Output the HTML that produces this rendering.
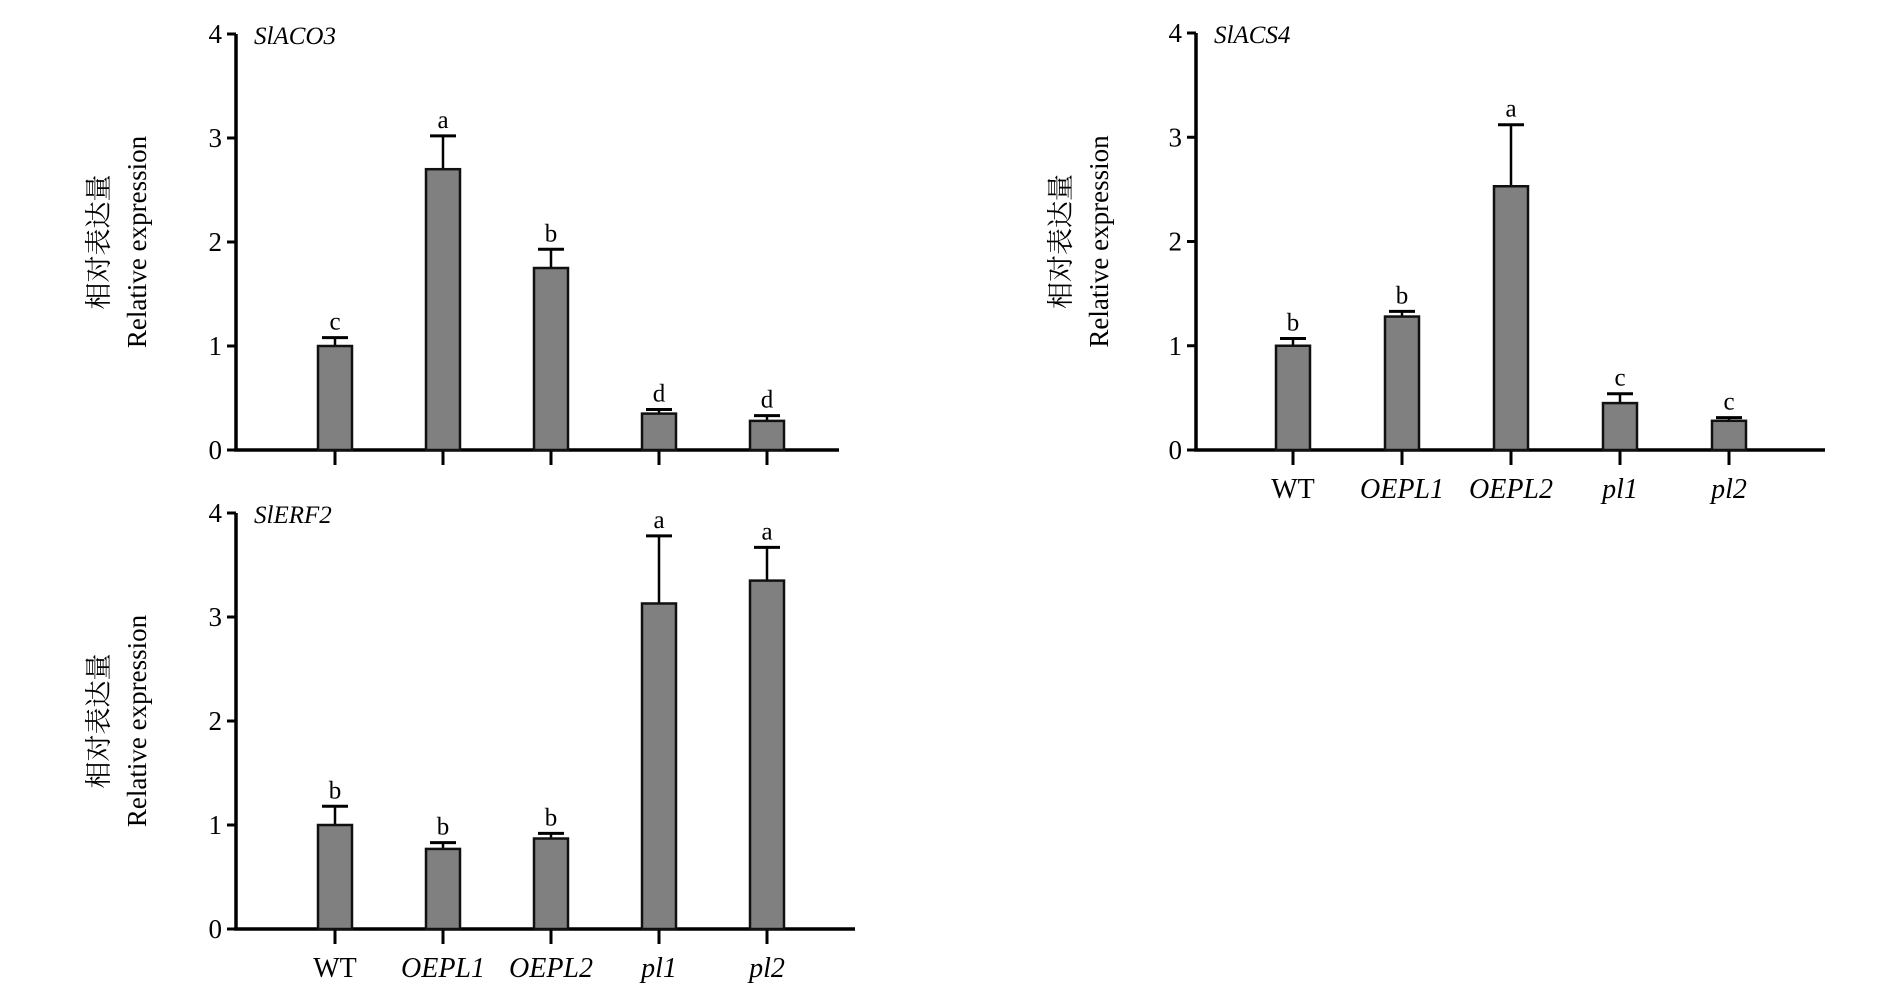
<!DOCTYPE html>
<html><head><meta charset="utf-8"><style>
html,body{margin:0;padding:0;background:#fff;}
svg{display:block;font-family:"Liberation Serif","Noto Serif CJK SC",serif;}
</style></head><body>
<svg id="chart" width="1890" height="983" viewBox="0 0 1890 983"></svg>
<script>
const categories = ["WT","OEPL1","OEPL2","pl1","pl2"];
const acoValues = [1.0, 2.7, 1.75, 0.35, 0.28];
const acoErrors = [0.08, 0.32, 0.18, 0.04, 0.05];
const acoLetters = ["c","a","b","d","d"];
const acsValues = [1.0, 1.28, 2.53, 0.45, 0.28];
const acsErrors = [0.07, 0.05, 0.59, 0.09, 0.03];
const acsLetters = ["b","b","a","c","c"];
const erfValues = [1.0, 0.77, 0.87, 3.13, 3.35];
const erfErrors = [0.18, 0.06, 0.05, 0.65, 0.32];
const erfLetters = ["b","b","b","a","a"];
const yTicks = [0,1,2,3,4];

const NS="http://www.w3.org/2000/svg";
const svg=document.getElementById('chart');
function mk(tag,attrs,parent){const e=document.createElementNS(NS,tag);for(const k in attrs)e.setAttribute(k,attrs[k]);(parent||svg).appendChild(e);return e;}

function panel(cfg){
  const g=mk('g',{});
  
  
  const y=v=>cfg.y0-(cfg.y0-cfg.y4)*v/4;
  const x=i=>cfg.xs[0]+i*cfg.step;
  // axes
  const ya=mk('line',{x1:cfg.ax,y1:cfg.y4,x2:cfg.ax,y2:cfg.y0,stroke:'#000','stroke-width':3.5},g);
  
  
  const xa=mk('line',{x1:cfg.ax-2,y1:cfg.y0,x2:cfg.axEnd,y2:cfg.y0,stroke:'#000','stroke-width':3.5},g);
  
  
  yTicks.forEach(t=>{
    mk('line',{x1:cfg.ax-9,y1:y(t),x2:cfg.ax,y2:y(t),stroke:'#000','stroke-width':3},g);
    const tl=mk('text',{x:cfg.ax-14,y:y(t)+9,'text-anchor':'end','font-size':27},g);
    tl.textContent=t;
    
    
  });
  const title=mk('text',{x:cfg.ax+18,y:cfg.y4+10,'font-size':25,'font-style':'italic'},g);
  title.textContent=cfg.title;
  
  
  const cy=(cfg.y0+cfg.y4)/2;
  const t1=mk('text',{x:cfg.tx1,y:cy,'text-anchor':'middle','font-size':27,transform:`rotate(-90 ${cfg.tx1} ${cy})`},g);
  t1.textContent='相对表达量';
  
  
  const t2=mk('text',{x:cfg.tx1+38,y:cy,'text-anchor':'middle','font-size':27,transform:`rotate(-90 ${cfg.tx1+38} ${cy})`},g);
  t2.textContent='Relative expression';
  
  
  const bw=34;
  cfg.values.forEach((v,i)=>{
    const cx=x(i);
    mk('line',{x1:cx,y1:cfg.y0,x2:cx,y2:cfg.y0+15,stroke:'#000','stroke-width':3},g);
    const top=y(v+cfg.errors[i]);
    const eb=mk('line',{x1:cx,y1:y(v),x2:cx,y2:top,stroke:'#000','stroke-width':2.5},g);
    
    
    mk('line',{x1:cx-13,y1:top,x2:cx+13,y2:top,stroke:'#000','stroke-width':3},g);
    const b=mk('rect',{x:cx-bw/2,y:y(v),width:bw,height:cfg.y0-y(v),fill:'#808080',stroke:'#111','stroke-width':2.5},g);
    
    
    const l=mk('text',{x:cx,y:top-8,'text-anchor':'middle','font-size':25},g);
    l.textContent=cfg.letters[i];
    
    
    if(cfg.labels){
      const c=mk('text',{x:cx,y:cfg.y0+48,'text-anchor':'middle','font-size':28,'font-style':i==0?'normal':'italic'},g);
      c.textContent=categories[i];
      
      
    }
  });
}
panel({name:'panel-slaco3',title:'SlACO3',ax:236,axEnd:839,y0:450,y4:34,xs:[335],step:108,values:acoValues,errors:acoErrors,letters:acoLetters,tx1:108,labels:false});
panel({name:'panel-slerf2',title:'SlERF2',ax:236,axEnd:855,y0:929,y4:513,xs:[335],step:108,values:erfValues,errors:erfErrors,letters:erfLetters,tx1:108,labels:true});
panel({name:'panel-slacs4',title:'SlACS4',ax:1196,axEnd:1825,y0:450,y4:33,xs:[1293],step:109,values:acsValues,errors:acsErrors,letters:acsLetters,tx1:1070,labels:true});
</script>
</body></html>
